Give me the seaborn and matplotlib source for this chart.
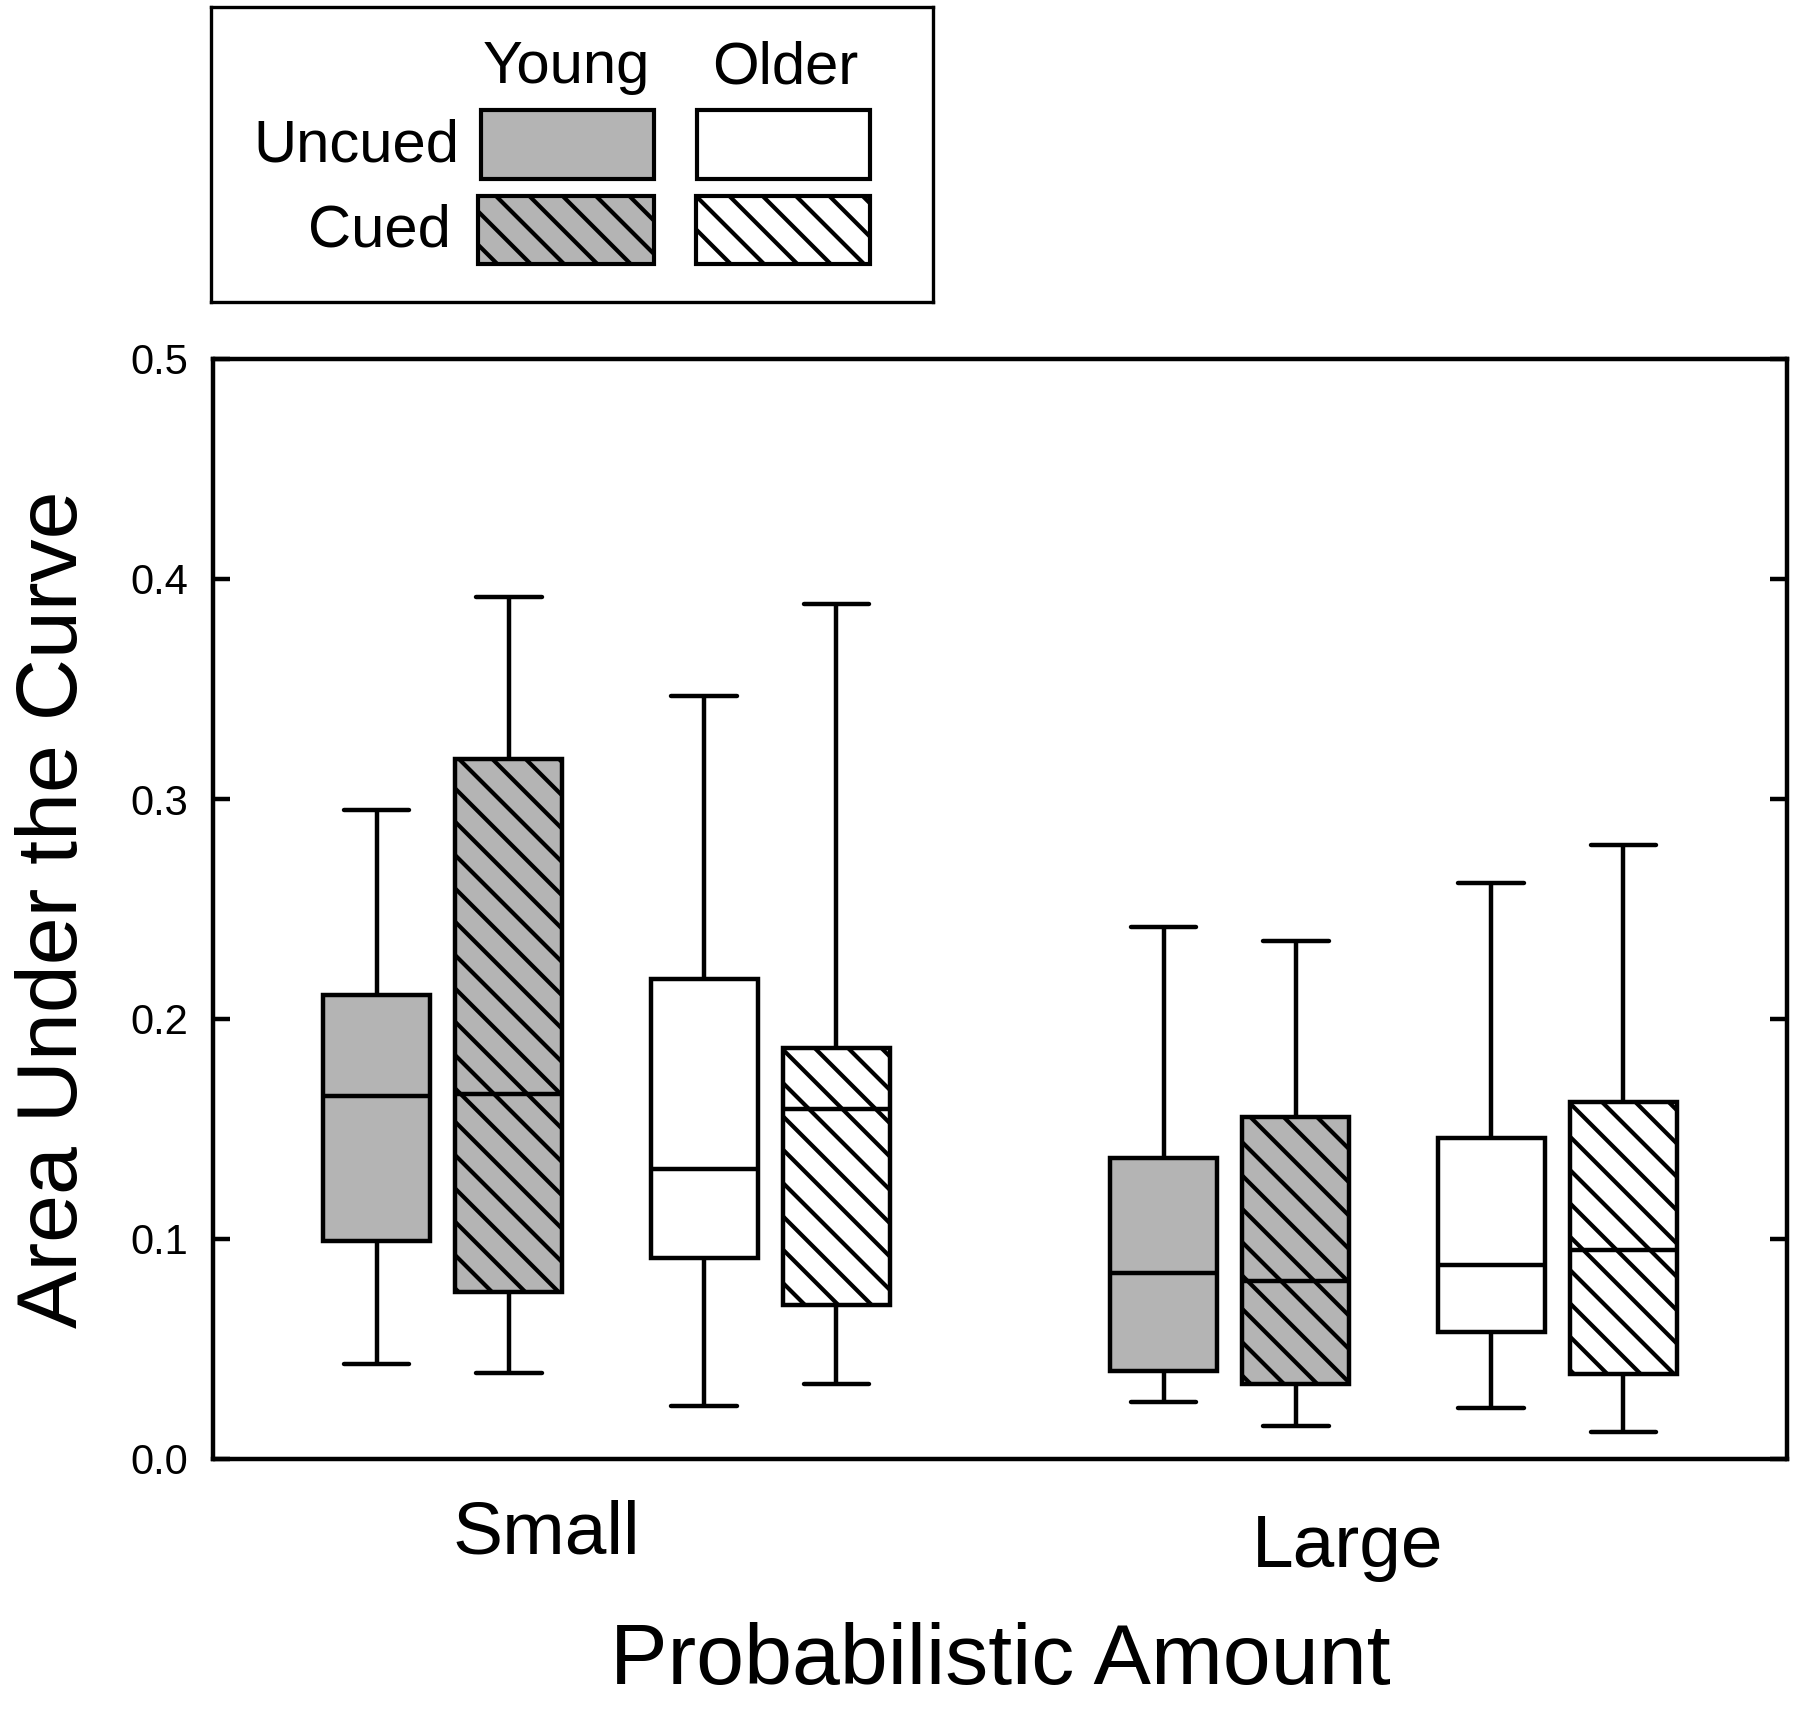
import numpy as np
import pandas as pd
import matplotlib
matplotlib.use("Agg")
import matplotlib.pyplot as plt
from matplotlib.patches import Rectangle
from matplotlib.ticker import FormatStrFormatter
from matplotlib.transforms import ScaledTranslation
import seaborn as sns

# ---------------- data ----------------
amounts = ["Small", "Large"]
conditions = ["Young Uncued", "Young Cued", "Older Uncued", "Older Cued"]

small_low = [0.043, 0.039, 0.024, 0.034]
small_q1 = [0.099, 0.076, 0.0915, 0.070]
small_med = [0.165, 0.166, 0.132, 0.159]
small_q3 = [0.211, 0.318, 0.218, 0.187]
small_high = [0.295, 0.392, 0.347, 0.3885]

large_low = [0.026, 0.015, 0.023, 0.0125]
large_q1 = [0.040, 0.034, 0.0576, 0.0386]
large_med = [0.0845, 0.081, 0.088, 0.095]
large_q3 = [0.137, 0.1555, 0.146, 0.1625]
large_high = [0.242, 0.2355, 0.262, 0.279]

y_ticks = [0.0, 0.1, 0.2, 0.3, 0.4, 0.5]

# ---------------- styling ----------------
sns.set_style("ticks")
plt.rcParams["font.family"] = ["Liberation Sans", "DejaVu Sans"]
plt.rcParams["hatch.linewidth"] = 1.5
plt.rcParams["hatch.color"] = "black"
plt.rcParams["text.color"] = "black"
plt.rcParams["axes.labelcolor"] = "black"
plt.rcParams["xtick.color"] = "black"
plt.rcParams["ytick.color"] = "black"

fills = ["#b4b4b4", "#b4b4b4", "white", "white"]
hatches = ["", "\\\\", "", "\\\\"]
offsets = [-0.292, -0.124, 0.124, 0.292]
BOX_W = 0.136
CAP_W = 0.083
LW = 1.6

stats = {
    "Small": [small_low, small_q1, small_med, small_q3, small_high],
    "Large": [large_low, large_q1, large_med, large_q3, large_high],
}
rows = []
for gi, amt in enumerate(amounts):
    for j, cond in enumerate(conditions):
        for s in stats[amt]:
            rows.append({"amount": amt, "condition": cond,
                         "pos": gi + offsets[j], "value": s[j]})
df = pd.DataFrame(rows)

fig = plt.figure(figsize=(9.05, 8.545), dpi=200)
fig.patch.set_facecolor("white")
ax = fig.add_axes([213 / 1810, 1 - 1459 / 1709, 1574 / 1810, 1100 / 1709])

for j, cond in enumerate(conditions):
    sub = df[df["condition"] == cond]
    n0 = len(ax.patches)
    sns.boxplot(data=sub, x="pos", y="value", orient="x", native_scale=True,
                width=BOX_W, whis=(0, 100), color=fills[j], linecolor="black",
                linewidth=LW, saturation=1, fliersize=0, capwidths=CAP_W, ax=ax)
    for p in ax.patches[n0:]:
        p.set_hatch(hatches[j])
        p.set_edgecolor("black")

ax.set_xlim(-0.5, 1.5)
ax.set_ylim(0, 0.5)
ax.set_yticks(y_ticks)
ax.yaxis.set_major_formatter(FormatStrFormatter("%.1f"))
ax.tick_params(axis="y", direction="in", length=6, width=LW, right=True,
               labelsize=15, pad=9, colors="black")
ax.set_xticks([-0.076, 0.942])
ax.set_xticklabels(amounts)
ax.tick_params(axis="x", length=0, labelsize=27, pad=14.4, colors="black")
for lbl, dy in zip(ax.get_xticklabels(), [0.0, -0.07]):
    lbl.set_transform(lbl.get_transform() + ScaledTranslation(0, dy, fig.dpi_scale_trans))
for sp in ax.spines.values():
    sp.set_visible(True)
    sp.set_linewidth(LW)
    sp.set_color("black")

ax.set_xlabel("Probabilistic Amount", fontsize=31, color="black")
ax.set_ylabel("Area Under the Curve", fontsize=31, color="black")
ax.xaxis.set_label_coords(0.5, -0.148)
ax.yaxis.set_label_coords(-0.075, 0.5)

# ---------------- legend (2x2 grid) ----------------
lax = fig.add_axes([211 / 1810, 1 - 302 / 1709, 722 / 1810, 295 / 1709])
lax.set_xlim(0, 722)
lax.set_ylim(295, 0)
lax.set_xticks([])
lax.set_yticks([])
for sp in lax.spines.values():
    sp.set_visible(True)
    sp.set_linewidth(1.2)
    sp.set_color("black")
leg_cells = [(270, 103, 173, 69), (267, 189, 176, 68), (486, 103, 173, 69), (485, 189, 174, 68)]
leg_order = [0, 1, 2, 3]
for j, (x0, y0, w, h) in zip(leg_order, leg_cells):
    lax.add_patch(Rectangle((x0, y0), w, h, facecolor=fills[j], edgecolor="black",
                            linewidth=1.5, hatch=hatches[j]))
lax.text(355, 76, "Young", ha="center", va="baseline", fontsize=21.5, color="black")
lax.text(574, 76, "Older", ha="center", va="baseline", fontsize=21.5, color="black")
lax.text(248, 154, "Uncued", ha="right", va="baseline", fontsize=21.5, color="black")
lax.text(240, 239, "Cued", ha="right", va="baseline", fontsize=21.5, color="black")

fig.savefig("out.png", dpi=200, facecolor="white")
